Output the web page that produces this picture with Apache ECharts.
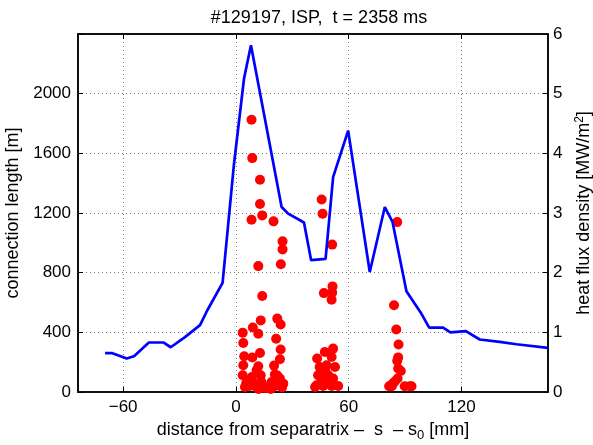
<!DOCTYPE html>
<html>
<head>
<meta charset="utf-8">
<script src="https://cdn.jsdelivr.net/npm/echarts@6/dist/echarts.min.js"></script>
<style>html,body{margin:0;padding:0;background:#fff;}#c{width:593px;height:445px;}</style>
</head>
<body>
<div id="c"></div>
<script>
// Heat flux density profile (right axis, MW/m^2)
const lineX = [-69.6,-65.7,-58.1,-54.2,-46.3,-38.6,-34.7,-27.1,-19.1,-15.2,-7.1,-1.1,4.3,8.0,24.3,27.8,36.2,40.0,47.7,51.7,59.7,71.2,79.2,83.3,90.7,98.7,102.8,110.2,114.1,122.3,129.7,140.3,149.2,166];
const lineQ = [0.65,0.65,0.56,0.60,0.83,0.83,0.75,0.92,1.12,1.37,1.83,3.80,5.25,5.81,3.10,2.99,2.84,2.21,2.23,3.60,4.38,2.01,3.10,2.85,1.69,1.31,1.08,1.08,1.00,1.02,0.88,0.84,0.80,0.74];
// Connection length points (left axis, m)
const dotX = [8.3,8.7,12.8,12.8,8.3,14.0,20.0,24.8,24.8,23.9,11.9,14.0,13.2,9.0,11.9,3.6,3.9,22.0,23.8,21.4,23.8,4.4,8.7,12.8,23.4,20.3,3.9,11.9,3.6,11.0,20.7,13.2,6.5,13.6,23.4,25.2,7.4,11.0,17.2,20.7,22.5,15.4,4.8,19.0,9.5,5.5,24.5,8.5,18.5,22.0,12.0,
  45.6,46.1,51.2,46.8,51.4,51.2,50.9,51.7,47.3,43.2,50.9,48.2,52.7,44.5,43.7,49.1,51.7,46.4,42.9,46.4,50.9,54.4,42.1,49.1,47.5,45.0,
  85.8,84.1,85.3,86.5,86.3,85.8,86.3,87.7,86.0,84.5,83.4,81.5,82.9,89.8,92.5,93.4];
const dotL = [1825,1568,1423,1260,1155,1184,1144,1010,956,856,844,643,480,433,391,398,328,492,452,357,285,240,231,262,220,177,179,173,112,145,117,112,78,67,90,56,40,33,33,40,45,27,33,67,60,60,30,100,20,110,20,
  1291,1195,988,663,708,666,619,291,268,224,235,179,168,168,112,112,90,78,45,40,40,40,33,67,140,100,
  1139,581,419,319,232,210,157,141,90,70,56,38,38,38,38,38];
const xTicks = [-60, 0, 60, 120];
const xMin = -84, xMax = 166;
const yLeftMax = 2400, yLeftStep = 400;
const yRightMax = 6, yRightStep = 1;

const FONT = "'Liberation Sans', Arial, Helvetica, sans-serif";
const chart = echarts.init(document.getElementById('c'), null, {renderer: 'canvas'});
const gridStyle = {type: [1, 3], color: '#777', width: 1};
chart.setOption({
  animation: false,
  backgroundColor: '#fff',
  title: {
    text: '#129197, ISP,  t = 2358 ms',
    left: 314, top: 4, textAlign: 'center',
    textStyle: {fontFamily: FONT, fontSize: 18, fontWeight: 'normal', color: '#000'}
  },
  grid: {left: 78, right: 45, top: 34, bottom: 53, containLabel: false, outerBoundsMode: 'none',
    show: true, borderColor: '#000', borderWidth: 1.5, backgroundColor: 'transparent'},
  xAxis: [{
    type: 'value', min: xMin, max: xMax, position: 'bottom',
    axisLine: {show: true, onZero: false, lineStyle: {color: '#000', width: 1.5}},
    axisTick: {show: true, inside: true, length: 5, customValues: xTicks, lineStyle: {color: '#000'}},
    axisLabel: {customValues: xTicks, margin: 7, color: '#000', fontFamily: FONT, fontSize: 17,
      formatter: v => String(v).replace('-', '\u2212')},
    splitLine: {show: true, lineStyle: gridStyle},
    name: '{t|distance from separatrix \u2013  s  \u2013 s}{s|0}{t| [mm]}',
    nameLocation: 'middle', nameGap: 25,
    nameTextStyle: {fontFamily: FONT, fontSize: 18, color: '#000',
      rich: {t: {fontFamily: FONT, fontSize: 18, color: '#000'},
             s: {fontFamily: FONT, fontSize: 13, color: '#000', padding: [12, 0, 0, 0]}}}
  }, {
    type: 'value', min: xMin, max: xMax, position: 'top',
    axisLine: {show: true, onZero: false, lineStyle: {color: '#000', width: 1.5}},
    axisTick: {show: true, inside: true, length: 5, customValues: xTicks, lineStyle: {color: '#000'}},
    axisLabel: {show: false, customValues: xTicks},
    splitLine: {show: false}
  }],
  yAxis: [{
    type: 'value', min: 0, max: yLeftMax, interval: yLeftStep, position: 'left',
    axisLine: {show: true, onZero: false, lineStyle: {color: '#000', width: 1.5}},
    axisTick: {show: true, inside: true, length: 5, lineStyle: {color: '#000'}},
    axisLabel: {margin: 7, color: '#000', fontFamily: FONT, fontSize: 17,
      formatter: v => v === yLeftMax ? '' : String(v)},
    splitLine: {show: true, lineStyle: gridStyle},
    name: 'connection length [m]', nameLocation: 'middle', nameGap: 48, nameRotate: 90,
    nameTextStyle: {fontFamily: FONT, fontSize: 18, color: '#000'}
  }, {
    type: 'value', min: 0, max: yRightMax, interval: yRightStep, position: 'right',
    axisLine: {show: true, onZero: false, lineStyle: {color: '#000', width: 1.5}},
    axisTick: {show: true, inside: true, length: 5, lineStyle: {color: '#000'}},
    axisLabel: {margin: 5, color: '#000', fontFamily: FONT, fontSize: 17},
    splitLine: {show: false},
    name: '{t|heat flux density [MW/m}{p|2}{t|]}', nameLocation: 'middle', nameGap: 24, nameRotate: 90,
    nameTextStyle: {fontFamily: FONT, fontSize: 18, color: '#000',
      rich: {t: {fontFamily: FONT, fontSize: 18, color: '#000'},
             p: {fontFamily: FONT, fontSize: 12, color: '#000', padding: [0, 0, 10, 0]}}}
  }],
  series: [{
    type: 'scatter', xAxisIndex: 0, yAxisIndex: 0, symbol: 'circle', symbolSize: 10,
    itemStyle: {color: '#ff0000', opacity: 1},
    data: dotX.map((x, i) => [x, dotL[i]])
  }, {
    type: 'line', xAxisIndex: 0, yAxisIndex: 1, showSymbol: false, symbol: 'none',
    lineStyle: {color: '#0000ff', width: 2.7},
    data: lineX.map((x, i) => [x, lineQ[i]])
  }]
});
</script>
</body>
</html>
